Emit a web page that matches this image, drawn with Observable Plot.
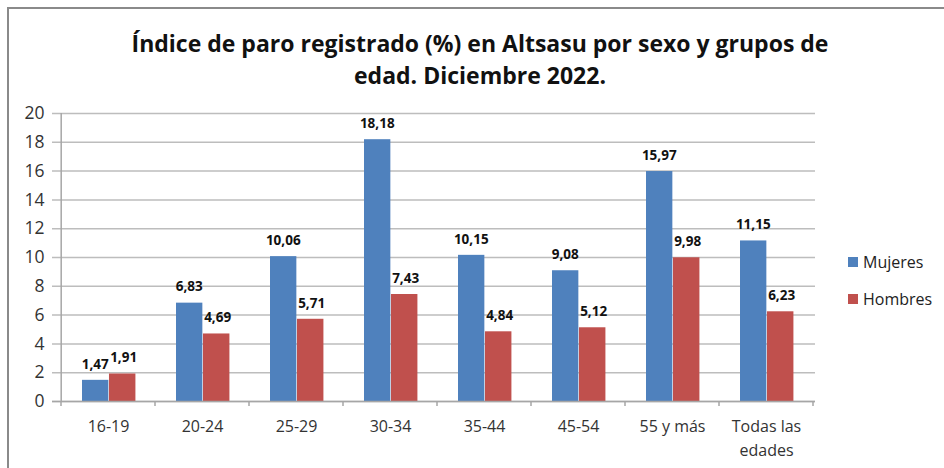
<!DOCTYPE html>
<html>
<head>
<meta charset="utf-8">
<script src="https://cdn.jsdelivr.net/npm/d3@7"></script>
<script src="https://cdn.jsdelivr.net/npm/@observablehq/plot@0.6"></script>
<style>
  html, body { margin: 0; padding: 0; background: #fff; }
  #wrap { position: relative; width: 944px; height: 468px; overflow: hidden; font-family: "Open Sans", sans-serif; }
  #border { position: absolute; left: 7px; top: 7px; width: 960px; height: 500px; border-left: 2px solid #8a8a8a; border-top: 2px solid #8a8a8a; box-sizing: border-box; }
  #title { position: absolute; left: 0; width: 960px; top: 27px; text-align: center; font-weight: bold; font-size: 23px; line-height: 32px; color: #111; }
  #chart { position: absolute; left: 0; top: 0; }
  #legend { position: absolute; left: 848px; top: 250px; font-size: 16px; color: #222; }
  .item { display: flex; align-items: center; height: 24px; margin-bottom: 13px; }
  .sw { width: 10px; height: 10px; margin-right: 5px; }
</style>
</head>
<body>
<div id="wrap">
  <div id="border"></div>
  <div id="chart"></div>
  <div id="title">Índice de paro registrado (%) en Altsasu por sexo y grupos de<br>edad. Diciembre 2022.</div>
  <div id="legend"></div>
</div>
<script>
const categories = ["16-19", "20-24", "25-29", "30-34", "35-44", "45-54", "55 y más", "Todas las\nedades"];
const mujeres = [1.47, 6.83, 10.06, 18.18, 10.15, 9.08, 15.97, 11.15];
const hombres = [1.91, 4.69, 5.71, 7.43, 4.84, 5.12, 9.98, 6.23];
const seriesNames = ["Mujeres", "Hombres"];
const seriesColors = ["#4F81BD", "#C0504D"];
const yTicks = [0, 2, 4, 6, 8, 10, 12, 14, 16, 18, 20];

const W = 944, H = 468;
const mL = 58, mR = 129, mT = 113, mB = 67;
const band = (W - mL - mR) / categories.length;

const dataM = categories.map((c, i) => ({cat: c, v: mujeres[i]}));
const dataH = categories.map((c, i) => ({cat: c, v: hombres[i]}));
const fmt = v => v.toFixed(2).replace(".", ",");

const blueL = band * 0.222, blueR = band * 0.507;
const redL = band * 0.507, redR = band * 0.793;

const plot = Plot.plot({
  width: W, height: H,
  marginLeft: mL, marginRight: mR, marginTop: mT, marginBottom: mB,
  style: {fontFamily: "Open Sans, sans-serif", background: "transparent"},
  x: {type: "band", domain: categories, padding: 0, label: null},
  y: {domain: [0, 20], label: null},
  marks: [
    Plot.ruleY(yTicks, {y: d => d, stroke: "#bdbdbd", strokeWidth: 1.5, insetLeft: -6}),
    Plot.barY(dataM, {x: "cat", y: "v", fill: seriesColors[0], insetLeft: blueL, insetRight: band - blueR}),
    Plot.barY(dataH, {x: "cat", y: "v", fill: seriesColors[1], insetLeft: redL, insetRight: band - redR}),
    Plot.ruleX([0], {x: () => categories[0], dx: -band / 2, y1: 0, y2: 20, stroke: "#a6a6a6", strokeWidth: 1.5}),
    Plot.ruleY([0], {stroke: "#a6a6a6", strokeWidth: 1.5, insetLeft: -6}),
    Plot.text(dataM, {x: "cat", y: "v", text: d => fmt(d.v), dx: band * (0.36 - 0.5), dy: -16, fontWeight: "bold", fontSize: 13.5, fill: "#111"}),
    Plot.text(dataH, {x: "cat", y: "v", text: d => fmt(d.v), dx: band * (0.66 - 0.5), dy: -16, fontWeight: "bold", fontSize: 13.5, fill: "#111"}),
    Plot.axisY(yTicks, {tickSize: 0, tickPadding: 14, fontSize: 17.5, fill: "#333"}),
    Plot.axisX({tickSize: 0, tickPadding: 13, fontSize: 16, fill: "#333", lineHeight: 1.5})
  ]
});
document.getElementById("chart").appendChild(plot);

// boundary tick marks on the x axis, positioned via the scales
const xs = plot.scale("x"), ys = plot.scale("y");
const svg = d3.select(plot);
const g = svg.append("g").attr("stroke", "#a6a6a6").attr("stroke-width", 1.5);
categories.forEach((c, i) => {
  const x0 = xs.apply(c);
  g.append("line").attr("x1", x0).attr("x2", x0).attr("y1", ys.apply(0)).attr("y2", ys.apply(0) + 5);
  if (i === categories.length - 1) {
    const x1 = x0 + xs.bandwidth;
    g.append("line").attr("x1", x1).attr("x2", x1).attr("y1", ys.apply(0)).attr("y2", ys.apply(0) + 5);
  }
});

const legend = document.getElementById("legend");
seriesNames.forEach((n, i) => {
  const d = document.createElement("div");
  d.className = "item";
  d.innerHTML = `<span class="sw" style="background:${seriesColors[i]}"></span><span>${n}</span>`;
  legend.appendChild(d);
});
</script>
</body>
</html>
